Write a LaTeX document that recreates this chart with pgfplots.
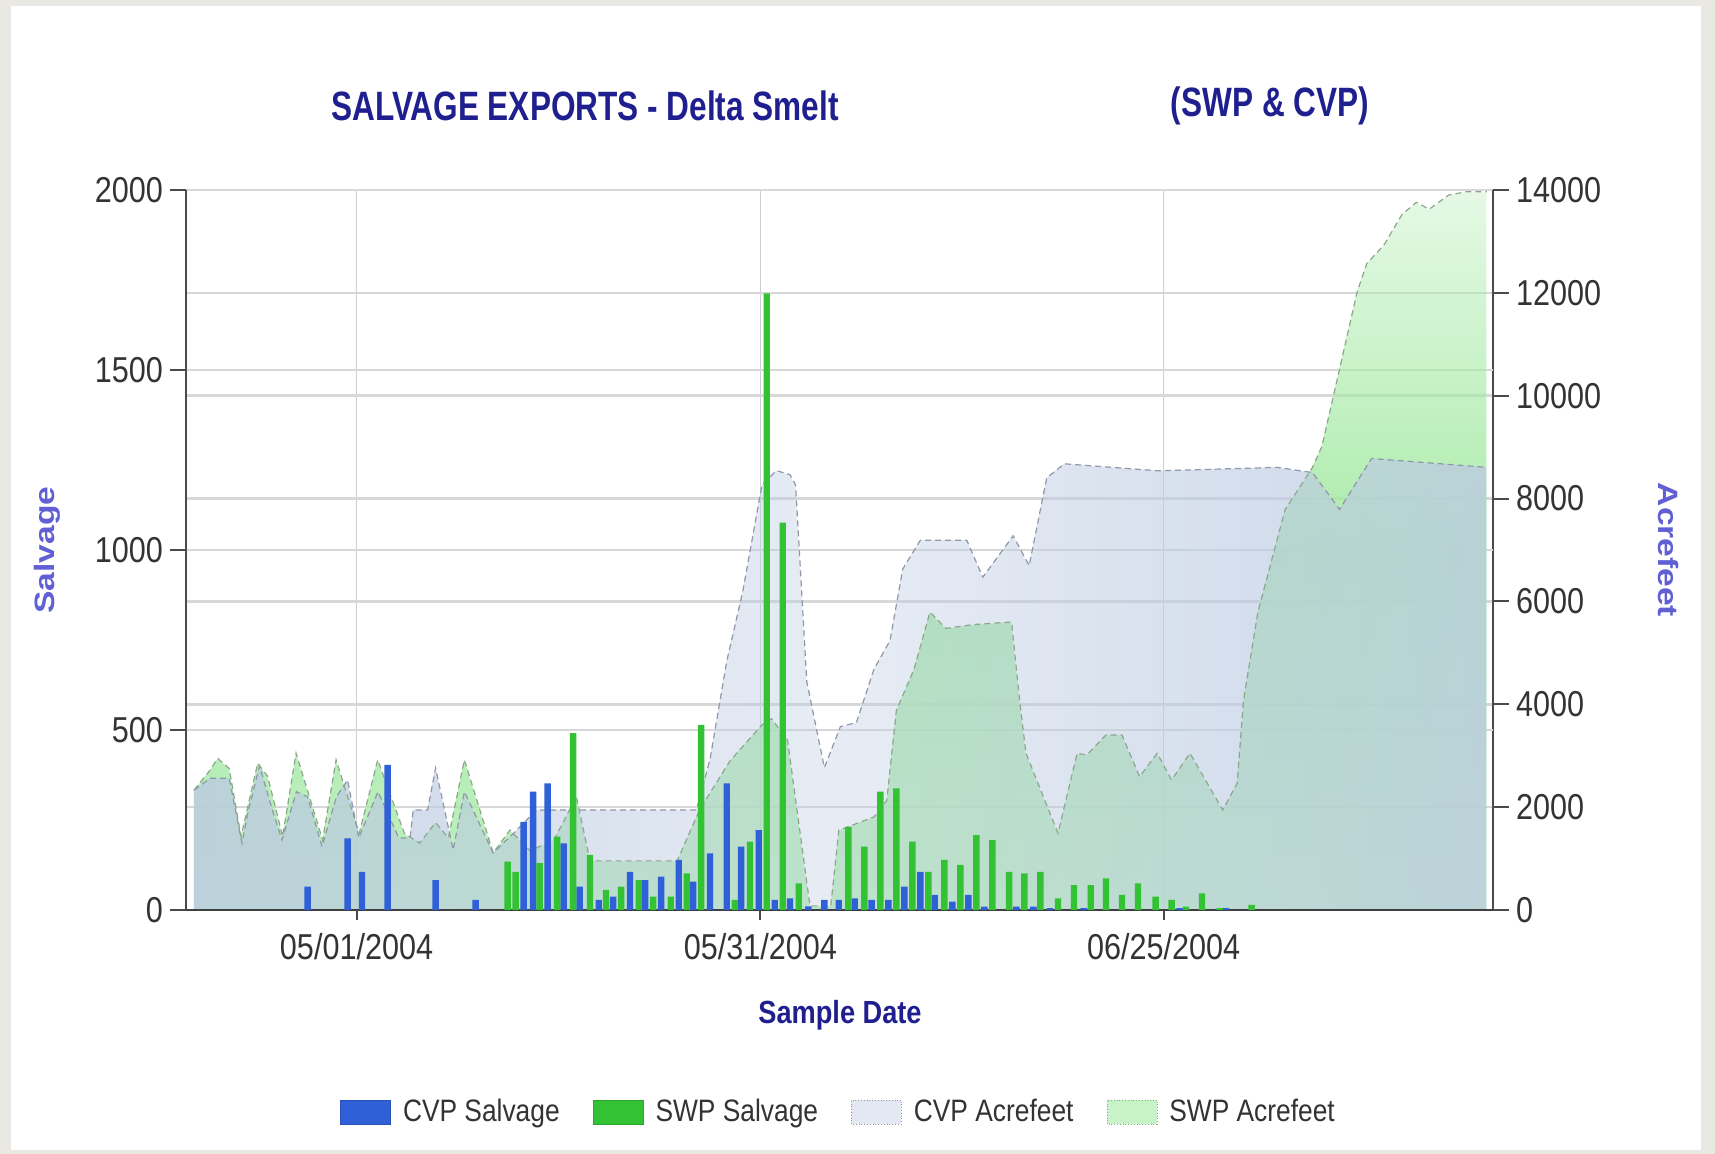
\documentclass[border=0pt]{standalone}
\usepackage{pgfplots}
\usepackage{pgfplotstable}
\pgfplotsset{compat=1.18}
\usetikzlibrary{fadings}
\usepackage{fontspec}
\setmainfont{Liberation Sans}[FakeStretch=0.85]
\newfontfamily\tallfont{Liberation Sans}[FakeStretch=1.2]
\newfontfamily\titlefont{Liberation Sans}[FakeStretch=0.77]

\definecolor{framegray}{HTML}{E9E8E3}
\definecolor{titleblue}{HTML}{1F1F8F}
\definecolor{labelblue}{HTML}{6060D4}
\definecolor{ticktext}{HTML}{333333}
\definecolor{axisgray}{HTML}{4A4A4A}
\definecolor{hgrid}{HTML}{D8D8D8}
\definecolor{vgrid}{HTML}{CFCFCF}
\definecolor{cvpbar}{HTML}{3060D8}
\definecolor{swpbar}{HTML}{33C233}
\definecolor{cvpfill}{HTML}{BCCBE2}
\definecolor{cvpleg}{HTML}{E4E8F2}
\definecolor{cvpline}{HTML}{9097A8}
\definecolor{swpfill}{HTML}{A4EAA4}
\definecolor{swpline}{HTML}{8CA88C}

\tikzfading[name=cvpfade, left color=transparent!18, right color=transparent!22,
  middle color=transparent!65]
\tikzfading[name=swpfade, top color=transparent!72, bottom color=transparent!30,
  middle color=transparent!8]

% SWP acre-feet
\pgfplotstableread{
x y
0.5 2330
1.46 2700
1.98 2950
2.7 2750
3.44 1430
4.48 2850
5.1 2600
6.04 1430
6.88 3050
8.54 1360
9.38 2920
10.83 1490
11.98 2920
13.65 1490
14.6 1300
15.6 1700
16.4 1400
17.4 2920
19.2 1110
20.25 1555
21.5 1150
23.0 1361
24.4 2203
25.25 955
30.7 955
32.1 1950
34.0 2900
36.0 3600
36.6 3720
37.6 3300
39.0 80
40.3 80
40.8 1550
43.0 1810
43.8 2130
44.4 3880
45.5 4680
46.5 5790
47.5 5475
49.2 5550
51.6 5600
52.1 4083
52.5 3047
54.5 1491
55.7 3047
56.3 3014
57.5 3403
58.5 3403
59.6 2592
60.7 3047
61.6 2528
62.75 3047
64.8 1944
65.7 2463
66.1 4083
67.0 5800
68.7 7788
70.4 8600
71.0 9017
72.1 10519
73.2 12020
73.8 12566
74.9 12942
76.0 13522
76.9 13761
77.7 13625
78.9 13898
80.0 13966
81.3 13966
}\swpaf

% CVP acre-feet
\pgfplotstableread{
x y
0.5 2330
1.5 2560
2.7 2560
3.5 1300
3.9 1944
4.6 2800
5.4 1944
6.0 1361
6.9 2300
7.6 2200
8.5 1232
9.4 2200
10.1 2527
10.8 1400
12.0 2300
13.3 1400
14.0 1400
14.2 1944
15.1 1944
15.6 2760
16.7 1167
17.4 2300
19.2 1108
20.5 1500
21.9 1944
31.9 1944
32.75 2926
33.8 4840
34.8 6193
36.0 8266
36.9 8544
37.75 8464
38.1 8266
38.8 4440
39.9 2767
40.9 3564
41.9 3644
43.0 4680
44.0 5236
44.8 6632
45.9 7190
48.8 7190
49.8 6471
51.7 7276
52.7 6696
53.8 8403
54.9 8676
60.8 8539
68.2 8607
70.4 8505
72.1 7789
74.1 8779
81.3 8607
}\cvpaf

\begin{document}
\begin{tikzpicture}
\fill[framegray] (0,0) rectangle (857.5pt,577pt);
\fill[white] (5.5pt,2pt) rectangle (850.5pt,574pt);

% right axis: acre-feet areas, all grid lines
\begin{axis}[
  scale only axis, width=653.5pt, height=360pt,
  at={(93pt,122pt)}, anchor=south west,
  xmin=0, xmax=81.69, ymin=0, ymax=14000,
  axis y line*=right, axis x line*=bottom,
  axis line style={-, draw=axisgray, line width=1pt},
  xtick={10.66,35.9,61.1}, xticklabels={}, xmajorgrids,
  x tick style={draw=none},
  major x grid style={draw=vgrid, line width=0.6pt},
  ytick={0,2000,...,14000}, ymajorgrids, scaled y ticks=false,
  extra y ticks={3500,7000,10500}, extra y tick labels={},
  extra y tick style={ymajorgrids=true, major tick length=0pt},
  major y grid style={draw=hgrid, line width=1.3pt},
  tick align=outside, major tick length=8pt,
  y tick style={draw=axisgray, line width=1pt},
  /pgf/number format/assume math mode=true,
  /pgf/number format/set thousands separator={},
  yticklabel style={font=\fontsize{18}{18}\selectfont, text=ticktext},
  ylabel={\tallfont\bfseries Acrefeet},
  ylabel style={at={(axis description cs:1.1339,0.5)}, anchor=center, rotate=180,
    font=\fontsize{14}{14}\selectfont, text=labelblue},
]
\addplot[draw=none, fill=swpfill, path fading=swpfade] table {\swpaf} \closedcycle;
\addplot[draw=none, fill=cvpfill, path fading=cvpfade] table {\cvpaf} \closedcycle;
\addplot[draw=swpline, densely dashed, line width=0.6pt] table {\swpaf};
\addplot[draw=cvpline, densely dashed, line width=0.6pt] table {\cvpaf};
\end{axis}

% left axis: salvage bars
\begin{axis}[
  scale only axis, width=653.5pt, height=360pt,
  at={(93pt,122pt)}, anchor=south west,
  xmin=0, xmax=81.69, ymin=0, ymax=2000,
  axis y line*=left, axis x line*=bottom,
  axis line style={-, draw=axisgray, line width=1pt},
  x axis line style={line width=1.4pt, draw=black!75},
  xtick={10.66,35.9,61.1}, xticklabels={05/01/2004,05/31/2004,06/25/2004},
  ytick={0,500,...,2000},
  tick align=outside, major tick length=8pt,
  tick style={draw=axisgray, line width=1pt},
  xtick style={/pgfplots/major tick length=5pt},
  /pgf/number format/assume math mode=true,
  /pgf/number format/set thousands separator={},
  ticklabel style={font=\fontsize{18}{18}\selectfont, text=ticktext},
  xlabel={\bfseries Sample Date},
  xlabel style={at={(axis description cs:0.5004,-0.1458)}, anchor=center,
    font=\fontsize{16}{16}\selectfont, text=titleblue},
  ylabel={\tallfont\bfseries Salvage},
  ylabel style={at={(axis description cs:-0.1064,0.5)}, anchor=center,
    font=\fontsize{14}{14}\selectfont, text=labelblue},
  legend image code/.code={\draw[#1] (0pt,-6pt) rectangle (25pt,6pt); \path (29pt,0pt);},
  legend style={at={(0.5,-0.2806)}, anchor=center, legend columns=4,
    draw=none, fill=none, font=\fontsize{15.5}{15.5}\selectfont, text=ticktext,
    /tikz/every even column/.append style={column sep=14.5pt}},
]
\addplot[ybar, bar width=0.4, bar shift=0pt, fill=cvpbar, draw=none, forget plot]
  coordinates {
  (7.6,65) (10.1,199) (11.0,106) (12.6,403) (15.6,83) (18.1,28) (21.1,245)
  (21.7,329) (22.6,352) (23.6,185) (24.6,65) (25.8,28) (26.7,37) (27.75,106)
  (28.7,83) (29.7,93) (30.8,139) (31.7,79) (32.75,157) (33.8,352) (34.7,176)
  (35.8,222) (36.8,28) (37.75,32) (38.9,10) (39.9,28) (40.8,28) (41.8,32)
  (42.85,28) (43.9,28) (44.9,65) (45.9,106) (46.8,42) (47.9,23) (48.9,42)
  (49.9,9) (51.9,9) (52.96,9) (54.0,5) (56.1,5) (62.1,5) (65.0,5)
  };
\addplot[ybar, bar width=0.4, bar shift=0pt, fill=swpbar, draw=none, forget plot]
  coordinates {
  (20.1,134) (20.6,106) (22.1,130) (23.2,204) (24.2,491) (25.25,153) (26.25,56)
  (27.2,65) (28.3,83) (29.2,37) (30.3,37) (31.3,102) (32.2,514) (34.3,28)
  (35.25,190) (36.3,1713) (37.3,1076) (38.3,74) (41.4,231) (42.4,176) (43.4,329)
  (44.4,338) (45.4,190) (46.4,106) (47.4,139) (48.4,125) (49.4,208) (50.4,194)
  (51.45,106) (52.4,102) (53.4,106) (54.5,32) (55.5,69) (56.55,69) (57.5,88)
  (58.5,42) (59.5,74) (60.6,37) (61.6,28) (62.5,9) (63.5,46) (64.6,5) (66.6,14)
  };
\addlegendimage{fill=cvpbar, draw=cvpbar!85!black}
\addlegendimage{fill=swpbar, draw=swpbar!85!black}
\addlegendimage{fill=cvpleg, draw=cvpline, densely dotted}
\addlegendimage{fill=swpfill!60, draw=swpline!80!green, densely dotted}
\legend{CVP Salvage, SWP Salvage, CVP Acrefeet, SWP Acrefeet}
\end{axis}

\node[font=\titlefont\fontsize{20.5}{20.5}\selectfont\bfseries, text=titleblue]
  at (292.5pt,524pt) {SALVAGE EXPORTS - Delta Smelt};
\node[font=\titlefont\fontsize{20.5}{20.5}\selectfont\bfseries, text=titleblue]
  at (635pt,524pt) {(SWP \& CVP)};
\end{tikzpicture}
\end{document}
